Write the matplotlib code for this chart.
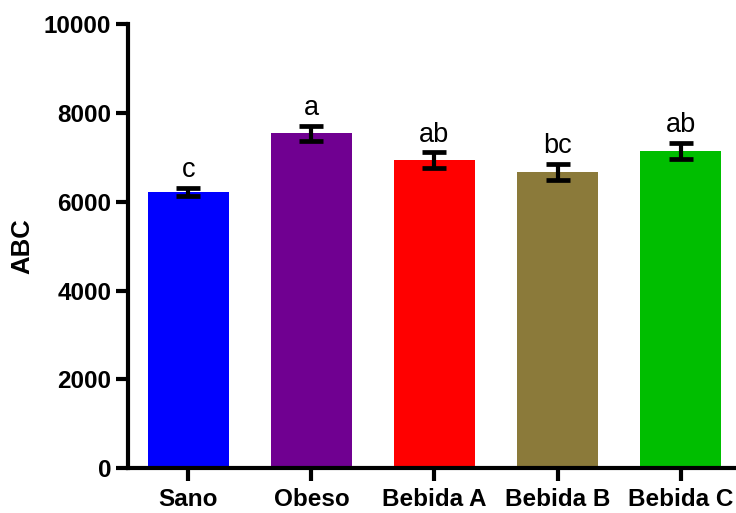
import matplotlib.pyplot as plt

groups = ["Sano", "Obeso", "Bebida A", "Bebida B", "Bebida C"]
means = [6225, 7540, 6940, 6675, 7150]
errors = [90, 176, 176, 177, 180]
letters = ["c", "a", "ab", "bc", "ab"]
colors = ["#0000FF", "#700091", "#FF0000", "#8B7A3A", "#00BE00"]

plt.rcParams['font.family'] = ['Liberation Sans', 'DejaVu Sans']

fig = plt.figure(figsize=(7.36, 5.13), dpi=100)
ax = fig.add_axes([0.1739, 0.0871, 0.8261, 0.866])

xpos = range(len(groups))
ax.bar(xpos, means, width=0.66, color=colors, zorder=2)
ax.errorbar(xpos, means, yerr=errors, fmt="none", ecolor="black",
            elinewidth=3, capsize=8.6, capthick=3.4, zorder=3)

# significance letters above each error bar
for x, m, e, t in zip(xpos, means, errors, letters):
    ax.annotate(t, (x, m + e), xytext=(0, 7.5), textcoords="offset points",
                ha="center", va="baseline", fontsize=19.5)

ax.set_xlim(-0.49, 4.45)
ax.set_ylim(0, 10000)
ax.set_yticks([0, 2000, 4000, 6000, 8000, 10000])
ax.set_xticks(list(xpos))
ax.set_xticklabels(groups, fontsize=17.5, fontweight="bold")
for lab in ax.get_yticklabels():
    lab.set_fontsize(17.5)
    lab.set_fontweight("bold")

ax.set_ylabel("ABC", fontsize=18.5, fontweight="bold", labelpad=7)

for side in ["top", "right"]:
    ax.spines[side].set_visible(False)
for side in ["left", "bottom"]:
    ax.spines[side].set_linewidth(3)
ax.tick_params(axis="both", width=3, length=9)
ax.tick_params(axis="y", pad=3)
ax.tick_params(axis="x", pad=5)

fig.savefig("out.png", dpi=100)
